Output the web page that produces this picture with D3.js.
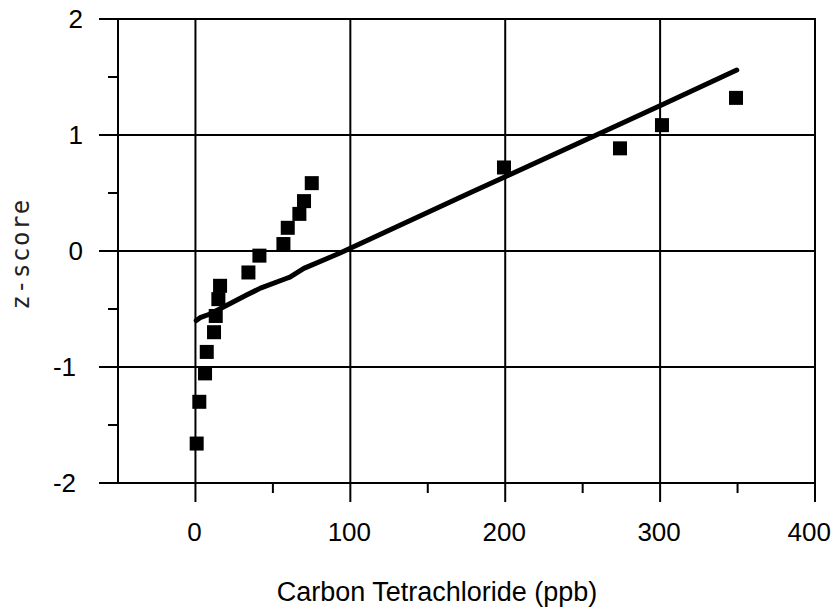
<!DOCTYPE html>
<html>
<head>
<meta charset="utf-8">
<script src="https://cdn.jsdelivr.net/npm/d3@7"></script>
<style>
  html, body { margin: 0; padding: 0; background: #fff; }
  svg { display: block; }
</style>
</head>
<body>
<svg id="chart" width="835" height="609"></svg>
<script>
// ---- data ----
const concentration = [0.8, 2.5, 6.2, 7.3, 12.0, 13.1, 14.8, 15.9, 34.2, 41.3, 56.8, 59.6, 67.1, 70.1, 75.1, 199.2, 274.1, 301.2, 349.0];
const zscore        = [-1.66, -1.30, -1.055, -0.87, -0.70, -0.56, -0.415, -0.30, -0.185, -0.04, 0.06, 0.20, 0.32, 0.43, 0.585, 0.72, 0.885, 1.085, 1.32];
const fitX = [0.5, 3, 9, 15, 33, 42, 59, 61, 70, 93, 177, 200, 275, 302, 349.5];
const fitZ = [-0.60, -0.575, -0.545, -0.505, -0.38, -0.32, -0.235, -0.225, -0.15, -0.02, 0.50, 0.64, 1.10, 1.265, 1.56];
const xMajorTicks = [0, 100, 200, 300, 400];
const xMinorTicks = [50, 150, 250, 350];
const yMajorTicks = [-2, -1, 0, 1, 2];
const yMinorTicks = [-1.5, -0.5, 0.5, 1.5];
const xTitle = "Carbon Tetrachloride (ppb)";
const yTitle = "z-score";

const W = 835;
const svg = d3.select("#chart");
const L = 118, R = 815, T = 19, B = 483;
const x = d3.scaleLinear().domain([-50, 400]).range([L, R]);
const y = d3.scaleLinear().domain([-2, 2]).range([B, T]);

const g = svg.append("g");
const stroke = "#000";

// gridlines
g.selectAll(".vgrid").data(xMajorTicks.filter(d => d < 400)).enter().append("line")
  .attr("x1", d => x(d)).attr("x2", d => x(d)).attr("y1", T).attr("y2", B)
  .attr("stroke", stroke).attr("stroke-width", 2);
g.selectAll(".hgrid").data(yMajorTicks.filter(d => d > -2 && d < 2)).enter().append("line")
  .attr("x1", L).attr("x2", R).attr("y1", d => y(d)).attr("y2", d => y(d))
  .attr("stroke", stroke).attr("stroke-width", 2);

// frame
g.append("rect").attr("x", L).attr("y", T).attr("width", R - L).attr("height", B - T)
  .attr("fill", "none").attr("stroke", stroke).attr("stroke-width", 2);

// x ticks
g.selectAll(".xmaj").data(xMajorTicks).enter().append("line")
  .attr("x1", d => x(d)).attr("x2", d => x(d)).attr("y1", B).attr("y2", B + 19)
  .attr("stroke", stroke).attr("stroke-width", 2);
g.selectAll(".xmin").data(xMinorTicks).enter().append("line")
  .attr("x1", d => x(d)).attr("x2", d => x(d)).attr("y1", B).attr("y2", B + 10)
  .attr("stroke", stroke).attr("stroke-width", 2);
// y ticks
g.selectAll(".ymaj").data(yMajorTicks).enter().append("line")
  .attr("x1", L - 19).attr("x2", L).attr("y1", d => y(d)).attr("y2", d => y(d))
  .attr("stroke", stroke).attr("stroke-width", 2);
g.selectAll(".ymin").data(yMinorTicks).enter().append("line")
  .attr("x1", L - 10).attr("x2", L).attr("y1", d => y(d)).attr("y2", d => y(d))
  .attr("stroke", stroke).attr("stroke-width", 2);

// tick labels
const font = "'Liberation Sans', Arial, Helvetica, sans-serif";
const xl = g.selectAll(".xlab").data(xMajorTicks).enter().append("text")
  .attr("x", d => x(d) - 1).attr("y", 541)
  .attr("text-anchor", "middle").attr("font-family", font).attr("font-size", 26)
  .attr("fill", "#000").text(d => d);
// keep the last label inside the picture, as in the reference
xl.each(function () {
  const w = this.getComputedTextLength();
  const cx = +this.getAttribute("x");
  if (cx + w / 2 > W - 4) this.setAttribute("x", W - 4 - w / 2);
});
g.selectAll(".ylab").data(yMajorTicks).enter().append("text")
  .attr("x", d => d < 0 ? 76 : 83).attr("y", d => y(d) + 9)
  .attr("text-anchor", "end").attr("font-family", font).attr("font-size", 26)
  .attr("fill", "#000").text(d => d);

// axis titles
g.append("text").attr("x", 437).attr("y", 601).attr("text-anchor", "middle")
  .attr("font-family", font).attr("font-size", 27)
  .attr("fill", "#000").text(xTitle);
g.append("text").attr("transform", "translate(29,254) rotate(-90)")
  .attr("text-anchor", "middle").attr("font-family", "'DejaVu Sans Mono', monospace")
  .attr("font-size", 24).attr("letter-spacing", 1.5).attr("fill", "#222").text(yTitle);

// fitted line
const fit = fitX.map((d, i) => [d, fitZ[i]]);
g.append("path").datum(fit)
  .attr("d", d3.line().x(d => x(d[0])).y(d => y(d[1])))
  .attr("fill", "none").attr("stroke", "#000").attr("stroke-width", 5)
  .attr("stroke-linejoin", "round").attr("stroke-linecap", "round");

// points
const pts = concentration.map((d, i) => [d, zscore[i]]);
const s = 14;
g.selectAll(".pt").data(pts).enter().append("rect")
  .attr("x", d => x(d[0]) - s / 2).attr("y", d => y(d[1]) - s / 2)
  .attr("width", s).attr("height", s).attr("fill", "#000");
</script>
</body>
</html>
